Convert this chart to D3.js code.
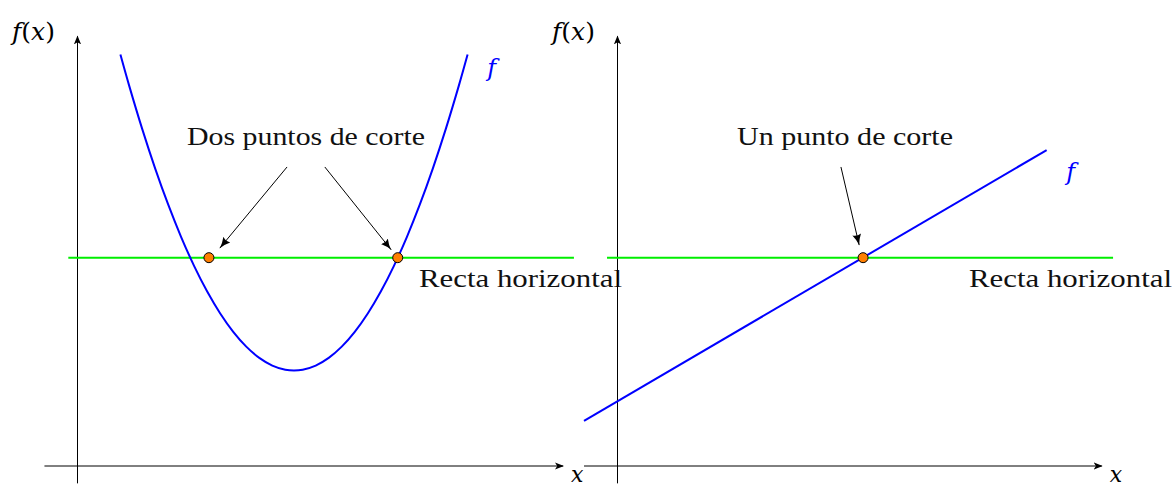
<!DOCTYPE html>
<html><head><meta charset="utf-8">
<script src="https://cdn.jsdelivr.net/npm/d3@7"></script>
<style>body{margin:0;background:#fff}svg{display:block}</style>
</head><body>
<script>
// ---- data ----
const panels = ["left", "right"];
const axisXRange = [[-0.75, 11.2], [-0.76, 11.17]];
const axisYRange = [-0.4, 9.9];
const horizontalY = 4.8;
const horizontalX = [[-0.2, 11.45], [-0.23, 11.43]];
// parabola f(x) = a (x - h)^2 + k, sampled at these x values
const parabolaX = [1.0,1.2,1.5,1.8,2.1,2.4,2.7,3.0,3.3,3.6,3.9,4.2,4.5,4.8,5.0,5.2,5.5,5.8,6.1,6.4,6.7,7.0,7.3,7.6,7.9,8.2,8.5,8.8,9.0];
const parabolaA = 0.455, parabolaH = 5.0, parabolaK = 2.2;
const lineX = [-0.76, 9.9];
const lineY = [1.04, 7.28];
const pointsLeft = [[3.04, 4.8], [7.39, 4.8]];
const pointsRight = [[5.67, 4.8]];
const arrowsLeft = [[[4.84, 6.89], [3.29, 5.02]], [[5.71, 6.89], [7.24, 4.98]]];
const arrowsRight = [[[5.16, 6.89], [5.58, 5.09]]];
const titles = ["Dos puntos de corte", "Un punto de corte"];
const titleWidths = [238, 216];
const horizLabel = "Recta horizontal";

const W = 1175, H = 487, unit = 43.4;
const origins = [[77, 466], [617, 466]];

const svg = d3.select("body").append("svg").attr("width", W).attr("height", H);
const defs = svg.append("defs");
defs.append("marker").attr("id", "ax").attr("viewBox", "0 0 10 10").attr("refX", 9).attr("refY", 5)
  .attr("markerWidth", 9).attr("markerHeight", 9).attr("markerUnits", "userSpaceOnUse").attr("orient", "auto")
  .append("path").attr("d", "M0,1 L10,5 L0,9 L2.5,5 Z").attr("fill", "#000");
defs.append("marker").attr("id", "ar").attr("viewBox", "0 0 10 10").attr("refX", 10).attr("refY", 5)
  .attr("markerWidth", 11).attr("markerHeight", 11).attr("markerUnits", "userSpaceOnUse").attr("orient", "auto")
  .append("path").attr("d", "M0,1 Q5,4 10,5 Q5,6 0,9 Q2,5 0,1 Z").attr("fill", "#000");

const tfont = "'Liberation Serif', serif";
const mfont = "'DejaVu Serif', serif";

panels.forEach((p, i) => {
  const [ox, oy] = origins[i];
  const x = d3.scaleLinear().domain([0, 1]).range([ox, ox + unit]);
  const y = d3.scaleLinear().domain([0, 1]).range([oy, oy - unit]);
  const g = svg.append("g");

  // axes
  g.append("line").attr("x1", x(axisXRange[i][0])).attr("x2", x(axisXRange[i][1]))
    .attr("y1", y(0)).attr("y2", y(0)).attr("stroke", "#000").attr("stroke-width", 1).attr("marker-end", "url(#ax)");
  g.append("line").attr("x1", x(0) + 0.5).attr("x2", x(0) + 0.5)
    .attr("y1", y(axisYRange[0])).attr("y2", y(axisYRange[1])).attr("stroke", "#000").attr("stroke-width", 1).attr("marker-end", "url(#ax)");
  g.append("text").attr("x", x(axisXRange[i][1]) + 8).attr("y", 482)
    .attr("font-family", mfont).attr("font-style", "italic").attr("font-size", 22).text("x");
  g.append("text").attr("x", x(0) - 65).attr("y", 40)
    .attr("font-family", mfont).attr("font-size", 25)
    .call(t => { t.append("tspan").attr("font-style", "italic").text("f"); t.append("tspan").text("("); t.append("tspan").attr("font-style", "italic").text("x"); t.append("tspan").text(")"); });

  // horizontal line
  g.append("line").attr("x1", x(horizontalX[i][0])).attr("x2", x(horizontalX[i][1]))
    .attr("y1", y(horizontalY)).attr("y2", y(horizontalY)).attr("stroke", "#00ee00").attr("stroke-width", 2);

  // function
  const line = d3.line().x(d => x(d[0])).y(d => y(d[1])).curve(d3.curveCatmullRom);
  let fdata, flabel;
  if (i === 0) {
    fdata = parabolaX.map(v => [v, parabolaA * (v - parabolaH) ** 2 + parabolaK]);
    flabel = [9.45, 8.98];
  } else {
    fdata = lineX.map((v, k) => [v, lineY[k]]);
    flabel = [10.35, 6.6];
  }
  g.append("path").attr("d", line(fdata)).attr("fill", "none").attr("stroke", "#0000ff").attr("stroke-width", 2);
  g.append("text").attr("x", x(flabel[0])).attr("y", y(flabel[1])).attr("fill", "#0000ff")
    .attr("font-family", mfont).attr("font-style", "italic").attr("font-size", 24).text("f");

  // arrows
  const arr = i === 0 ? arrowsLeft : arrowsRight;
  arr.forEach(a => {
    g.append("line").attr("x1", x(a[0][0])).attr("y1", y(a[0][1])).attr("x2", x(a[1][0])).attr("y2", y(a[1][1]))
      .attr("stroke", "#000").attr("stroke-width", 1).attr("marker-end", "url(#ar)");
  });

  // points
  const pts = i === 0 ? pointsLeft : pointsRight;
  g.selectAll("circle.pt").data(pts).join("circle").attr("class", "pt")
    .attr("cx", d => x(d[0])).attr("cy", d => y(d[1])).attr("r", 5)
    .attr("fill", "#ff7f00").attr("stroke", "#000").attr("stroke-width", 1);

  // title
  g.append("text").attr("x", i === 0 ? 187 : 737).attr("y", 145)
    .attr("font-family", tfont).attr("font-size", 26).attr("fill", "#111")
    .attr("textLength", titleWidths[i]).attr("lengthAdjust", "spacingAndGlyphs").text(titles[i]);

  // horizontal label
  g.append("text").attr("x", i === 0 ? 419 : 969).attr("y", 287).attr("font-family", tfont).attr("font-size", 26).attr("fill", "#111")
    .attr("textLength", 203).attr("lengthAdjust", "spacingAndGlyphs").text(horizLabel);
});
</script>
</body></html>
